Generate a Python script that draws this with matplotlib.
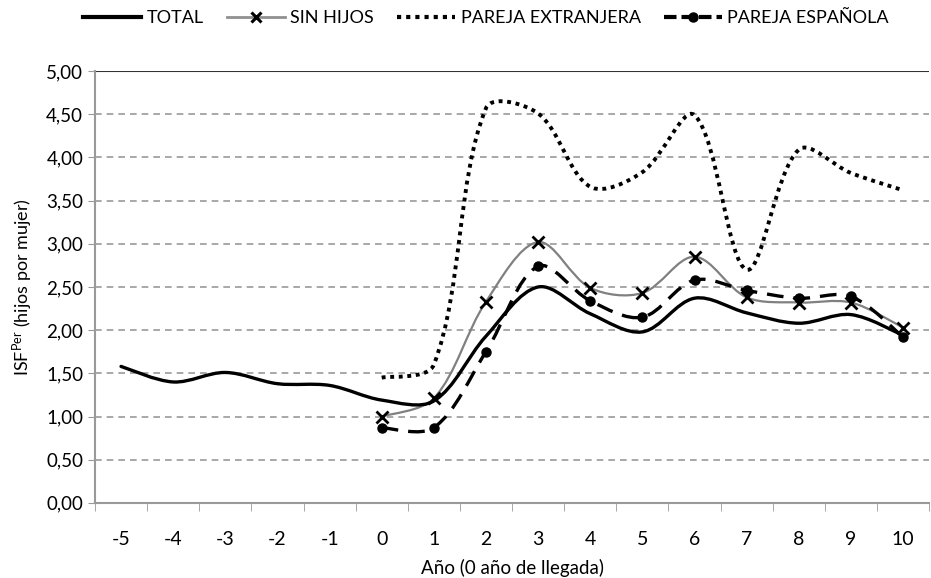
import numpy as np
import matplotlib.pyplot as plt
from matplotlib.path import Path
from matplotlib.patches import PathPatch
from matplotlib.lines import Line2D
from matplotlib.ticker import FuncFormatter

plt.rcParams['font.family'] = ['Lato', 'DejaVu Sans']
plt.rcParams['axes.unicode_minus'] = False

years_total = [-5, -4, -3, -2, -1, 0, 1, 2, 3, 4, 5, 6, 7, 8, 9, 10]
total = [1.58, 1.40, 1.51, 1.38, 1.36, 1.19, 1.18, 1.93, 2.50, 2.19, 1.98, 2.37, 2.20, 2.08, 2.18, 1.94]

years = [0, 1, 2, 3, 4, 5, 6, 7, 8, 9, 10]
sin_hijos = [1.00, 1.21, 2.33, 3.02, 2.49, 2.43, 2.85, 2.38, 2.32, 2.32, 2.03]
pareja_ext = [1.45, 1.60, 4.57, 4.51, 3.66, 3.83, 4.49, 2.70, 4.09, 3.82, 3.62]
pareja_esp = [0.87, 0.87, 1.75, 2.74, 2.34, 2.15, 2.58, 2.46, 2.37, 2.39, 1.92]

# approximate pixels per data unit, used only to weight the curve tangents
SX, SY = 52.0, 86.4


def smooth_path(x, y):
    # Excel-style smoothed line: cubic Bezier segments through every point,
    # tangents weighted by neighbouring segment lengths (on screen)
    p = np.column_stack([x, y]).astype(float)
    n = len(p)
    scr = p * [SX, SY]
    d = np.hypot(*np.diff(scr, axis=0).T)
    verts = [p[0]]
    codes = [Path.MOVETO]
    for i in range(n - 1):
        prev = p[i - 1] if i > 0 else p[i]
        nxt = p[i + 2] if i + 2 < n else p[i + 1]
        dp = d[i - 1] if i > 0 else d[i]
        dn = d[i + 1] if i + 2 < n else d[i]
        c1 = p[i] + (p[i + 1] - prev) * d[i] / (dp + d[i]) / 3
        c2 = p[i + 1] - (nxt - p[i]) * d[i] / (dn + d[i]) / 3
        verts += [c1, c2, p[i + 1]]
        codes += [Path.CURVE4] * 3
    return Path(verts, codes)


fig = plt.figure(figsize=(9.31, 5.78), dpi=100)
ax = fig.add_axes([0.102, 0.13, 0.896, 0.747])

ax.set_ylim(0, 5)
ax.set_xlim(-5.5, 10.5)
for yv in np.arange(0.5, 5.0, 0.5):
    ax.axhline(yv, color='#999999', lw=1.2, ls=(0, (4, 3)), zorder=0)
ax.axhline(5.0, color='#333333', lw=1.5, zorder=0)

ax.add_patch(PathPatch(smooth_path(years_total, total), fill=False,
                       color='black', lw=2.4, capstyle='round', zorder=4))
ax.add_patch(PathPatch(smooth_path(years, sin_hijos), fill=False,
                       color='#808080', lw=1.6, zorder=3))
ax.plot(years, sin_hijos, ls='none', marker='x', ms=8, mew=2, color='black', zorder=5)
ax.add_patch(PathPatch(smooth_path(years, pareja_ext), fill=False,
                       color='black', lw=2.8, ls=(0, (1, 1.2)), zorder=3))
ax.add_patch(PathPatch(smooth_path(years, pareja_esp), fill=False,
                       color='black', lw=2.4, ls=(0, (5, 3)), zorder=4))
ax.plot(years, pareja_esp, ls='none', marker='o', ms=6.5, color='black', zorder=5)

ax.set_xticks(years_total)
ax.set_xticks(np.arange(-5.5, 11, 1), minor=True)
ax.tick_params(axis='x', which='major', length=0, pad=20, labelsize=14)
ax.tick_params(axis='x', which='minor', length=6, color='#999999')
ax.set_yticks(np.arange(0, 5.01, 0.5))
ax.yaxis.set_major_formatter(FuncFormatter(lambda v, p: f'{v:.2f}'.replace('.', ',')))
ax.tick_params(axis='y', length=5, color='#999999', labelsize=13.5)

for s in ['top', 'right']:
    ax.spines[s].set_visible(False)
for s in ['left', 'bottom']:
    ax.spines[s].set_color('#999999')
    ax.spines[s].set_linewidth(1.5)

ax.set_xlabel('Año (0 año de llegada)', fontsize=13.5, labelpad=8)
ax.set_ylabel('ISF$\\mathregular{^{Per}}$ (hijos por mujer)', fontsize=13, labelpad=8)

handles = [
    Line2D([], [], color='black', lw=3),
    Line2D([], [], color='#909090', lw=2, marker='x', ms=7, mew=2.2, mec='black'),
    Line2D([], [], color='black', lw=3, ls=(0, (1, 1.2))),
    Line2D([], [], color='black', lw=3, ls=(0, (3, 1.2)), marker='o', ms=6.5, mfc='black'),
]
labels = ['TOTAL', 'SIN HIJOS', 'PAREJA EXTRANJERA', 'PAREJA ESPAÑOLA']
fig.legend(handles, labels, loc='upper center', bbox_to_anchor=(0.522, 1.01), ncol=4,
           frameon=False, fontsize=13, handlelength=3.2, handletextpad=0.3,
           columnspacing=1.3)

fig.savefig('out.png', dpi=100)
